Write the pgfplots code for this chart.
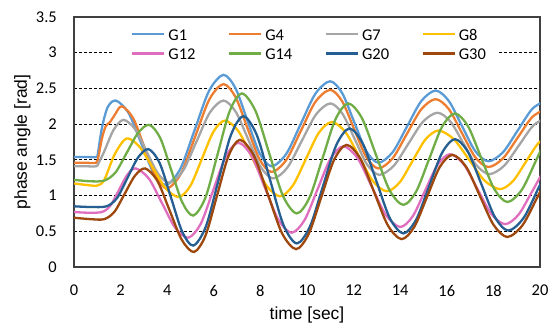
\documentclass[border=0pt]{standalone}
\usepackage{pgfplots}
\pgfplotsset{compat=1.18}
\usepackage{fontspec}
\setmainfont{Liberation Sans}
\newfontfamily\carlito{Carlito}
\definecolor{cG1}{HTML}{5B9BD5}
\definecolor{cG4}{HTML}{ED7D31}
\definecolor{cG7}{HTML}{A5A5A5}
\definecolor{cG8}{HTML}{FFC000}
\definecolor{cG12}{HTML}{E06EBE}
\definecolor{cG14}{HTML}{70AD47}
\definecolor{cG20}{HTML}{255E91}
\definecolor{cG30}{HTML}{9E480E}
\newcommand{\lent}[1]{\makebox[43.5bp][l]{\hspace{3bp}#1\rule[-7.2bp]{0pt}{25bp}}}
\begin{document}
\begin{tikzpicture}
\useasboundingbox (0,0) rectangle (555bp,327bp);
\begin{axis}[
  at={(74bp,60bp)}, anchor=south west,
  scale only axis, width=466bp, height=250bp,
  xmin=0, xmax=20, ymin=0, ymax=3.5,
  xtick={0,2,4,6,8,10,12,14,16,18,20},
  ytick={0,0.5,1,1.5,2,2.5,3,3.5},
  ymajorgrids,
  major grid style={black, line width=0.8bp, dash pattern=on 3bp off 2bp},
  axis line style={black!75, line width=1.2bp},
  major tick length=0pt,
  /pgf/number format/assume math mode=true,
  tick label style={font=\carlito\fontsize{16.5}{19}\selectfont},
  xticklabel style={anchor=north, inner sep=0pt, yshift=-18bp},
  yticklabel style={anchor=east, inner sep=0pt, xshift=-17bp},
  xlabel={time [sec]},
  xlabel style={at={(axis description cs:0.5,-0.2108)}, anchor=base, font=\fontsize{17.5}{20}\selectfont},
  ylabel={phase angle [rad]},
  ylabel style={at={(axis description cs:-0.1009,0.5)}, anchor=base, font=\fontsize{17.5}{20}\selectfont},
  legend columns=4,
  legend style={at={(axis description cs:0.0815,0.978)}, anchor=north west, draw=none, fill=white,
    inner sep=0pt, column sep=0pt, row sep=0pt, nodes={inner sep=0pt},
    font=\carlito\fontsize{16.5}{19}\selectfont},
  legend image code/.code={\path[draw=none, fill=none] (0bp,-1.7bp) -- (53bp,-1.7bp); \draw[#1, line width=2.6bp, line cap=butt] (20bp,-1.7bp) -- (52bp,-1.7bp);},
  every axis plot/.append style={line width=2.3bp, mark=none, smooth},
]
\addplot[color=cG1] coordinates {(0,1.54)(0.5,1.54)(0.95,1.54)(1.02,1.58)(1.2,1.95)(1.45,2.24)(1.8,2.33)
 (2.34,2.158)(2.875,1.74)(3.41,1.322)(3.95,1.15)
 (4.565,1.375)(5.18,1.92)(5.795,2.465)(6.41,2.69)
 (6.93,2.503)(7.445,2.05)(7.96,1.597)(8.48,1.41)
 (9.11,1.584)(9.735,2.005)(10.36,2.426)(10.99,2.60)
 (11.51,2.434)(12.025,2.03)(12.54,1.626)(13.06,1.46)
 (13.675,1.607)(14.29,1.965)(14.905,2.323)(15.52,2.47)
 (16.085,2.325)(16.65,1.975)(17.215,1.625)(17.78,1.48)
 (18.41,1.606)(19.04,1.91)(19.67,2.214)(20.3,2.34)};
\addlegendentry{\lent{G1}}
\addplot[color=cG4] coordinates {(0,1.46)(0.5,1.46)(0.95,1.46)(1.05,1.55)(1.2,1.8)(1.36,1.97)(1.55,2.03)(1.75,2.13)(2.05,2.25)
 (2.54,2.082)(3.025,1.675)(3.51,1.268)(4.0,1.10)
 (4.6,1.313)(5.205,1.83)(5.81,2.347)(6.41,2.56)
 (6.93,2.38)(7.445,1.945)(7.96,1.51)(8.48,1.33)
 (9.11,1.498)(9.735,1.905)(10.36,2.312)(10.99,2.48)
 (11.51,2.319)(12.025,1.93)(12.54,1.541)(13.06,1.38)
 (13.675,1.522)(14.29,1.865)(14.905,2.208)(15.52,2.35)
 (16.085,2.211)(16.65,1.875)(17.215,1.539)(17.78,1.40)
 (18.41,1.52)(19.04,1.81)(19.67,2.10)(20.3,2.22)};
\addlegendentry{\lent{G4}}
\addplot[color=cG7] coordinates {(0,1.41)(0.5,1.41)(0.95,1.41)(1.05,1.45)(1.3,1.62)(1.7,1.92)(2.12,2.06)
 (2.615,1.932)(3.11,1.62)(3.605,1.308)(4.1,1.18)
 (4.68,1.348)(5.255,1.755)(5.83,2.162)(6.41,2.33)
 (6.945,2.171)(7.48,1.785)(8.015,1.399)(8.55,1.24)
 (9.16,1.393)(9.775,1.765)(10.39,2.137)(11.0,2.29)
 (11.525,2.144)(12.05,1.79)(12.575,1.436)(13.1,1.29)
 (13.725,1.417)(14.35,1.725)(14.975,2.033)(15.6,2.16)
 (16.16,2.034)(16.715,1.73)(17.27,1.426)(17.83,1.30)
 (18.46,1.417)(19.09,1.70)(19.72,1.983)(20.35,2.10)};
\addlegendentry{\lent{G7}}
\addplot[color=cG8] coordinates {(0,1.17)(0.5,1.15)(1.0,1.14)(1.3,1.22)(1.75,1.58)(2.26,1.80)
 (2.82,1.68)(3.38,1.39)(3.94,1.10)(4.5,0.98)
 (4.995,1.136)(5.49,1.515)(5.985,1.894)(6.48,2.05)
 (7.07,1.895)(7.66,1.52)(8.25,1.145)(8.84,0.99)
 (9.395,1.142)(9.95,1.51)(10.505,1.878)(11.06,2.03)
 (11.65,1.888)(12.24,1.545)(12.83,1.202)(13.42,1.06)
 (13.975,1.184)(14.53,1.485)(15.085,1.786)(15.64,1.91)
 (16.3,1.79)(16.96,1.50)(17.62,1.21)(18.28,1.09)
 (18.835,1.201)(19.39,1.47)(19.945,1.739)(20.5,1.85)};
\addlegendentry{\lent{G8}}
\addplot[color=cG12] coordinates {(0,0.77)(0.6,0.76)(1.2,0.77)
 (1.5625,0.859)(1.925,1.075)(2.2875,1.291)(2.65,1.38)
 (3.2125,1.238)(3.775,0.895)(4.3375,0.552)(4.9,0.41)
 (5.4375,0.604)(5.975,1.075)(6.5125,1.546)(7.05,1.74)
 (7.6225,1.556)(8.195,1.11)(8.7675,0.664)(9.34,0.48)
 (9.895,0.657)(10.45,1.085)(11.005,1.513)(11.56,1.69)
 (12.17,1.525)(12.78,1.125)(13.39,0.725)(14.0,0.56)
 (14.535,0.709)(15.07,1.07)(15.605,1.431)(16.14,1.58)
 (16.73,1.437)(17.32,1.09)(17.91,0.743)(18.5,0.60)
 (19.075,0.731)(19.65,1.05)(20.225,1.369)(20.8,1.5)};
\addlegendentry{\lent{G12}}
\addplot[color=cG14] coordinates {(0,1.22)(0.7,1.2)(1.3,1.21)
 (1.7825,1.324)(2.265,1.60)(2.7475,1.876)(3.23,1.99)
 (3.7025,1.805)(4.175,1.355)(4.6475,0.905)(5.12,0.72)
 (5.64,0.97)(6.16,1.575)(6.68,2.18)(7.2,2.43)
 (7.79,2.185)(8.38,1.59)(8.97,0.995)(9.56,0.75)
 (10.1125,0.975)(10.665,1.52)(11.2175,2.065)(11.77,2.29)
 (12.36,2.083)(12.95,1.58)(13.54,1.077)(14.13,0.87)
 (14.685,1.057)(15.24,1.51)(15.795,1.963)(16.35,2.15)
 (16.9125,1.969)(17.475,1.53)(18.0375,1.091)(18.6,0.91)
 (19.225,1.084)(19.85,1.505)(20.475,1.926)(21.1,2.1)};
\addlegendentry{\lent{G14}}
\addplot[color=cG20] coordinates {(0,0.85)(0.7,0.84)(1.4,0.85)
 (1.85,0.967)(2.3,1.25)(2.75,1.533)(3.2,1.65)
 (3.68,1.453)(4.16,0.975)(4.64,0.497)(5.12,0.30)
 (5.6575,0.564)(6.195,1.205)(6.7325,1.846)(7.27,2.11)
 (7.8425,1.85)(8.415,1.22)(8.9875,0.59)(9.56,0.33)
 (10.125,0.565)(10.69,1.135)(11.255,1.705)(11.82,1.94)
 (12.3975,1.725)(12.975,1.205)(13.5525,0.685)(14.13,0.47)
 (14.685,0.663)(15.24,1.13)(15.795,1.597)(16.35,1.79)
 (16.9225,1.603)(17.495,1.15)(18.0675,0.697)(18.64,0.51)
 (19.305,0.691)(19.97,1.13)(20.635,1.569)(21.3,1.75)};
\addlegendentry{\lent{G20}}
\addplot[color=cG30] coordinates {(0,0.69)(0.7,0.67)(1.3,0.67)
 (1.7375,0.774)(2.175,1.025)(2.6125,1.276)(3.05,1.38)
 (3.575,1.209)(4.1,0.795)(4.625,0.381)(5.15,0.21)
 (5.6425,0.439)(6.135,0.995)(6.6275,1.551)(7.12,1.78)
 (7.7225,1.557)(8.325,1.015)(8.9275,0.473)(9.53,0.25)
 (10.0725,0.463)(10.615,0.98)(11.1575,1.497)(11.7,1.71)
 (12.29,1.517)(12.88,1.05)(13.47,0.583)(14.06,0.39)
 (14.605,0.562)(15.15,0.98)(15.695,1.398)(16.24,1.57)
 (16.83,1.402)(17.42,0.995)(18.01,0.588)(18.6,0.42)
 (19.25,0.585)(19.9,0.985)(20.55,1.385)(21.2,1.55)};
\addlegendentry{\lent{G30}}
\end{axis}
\end{tikzpicture}
\end{document}
